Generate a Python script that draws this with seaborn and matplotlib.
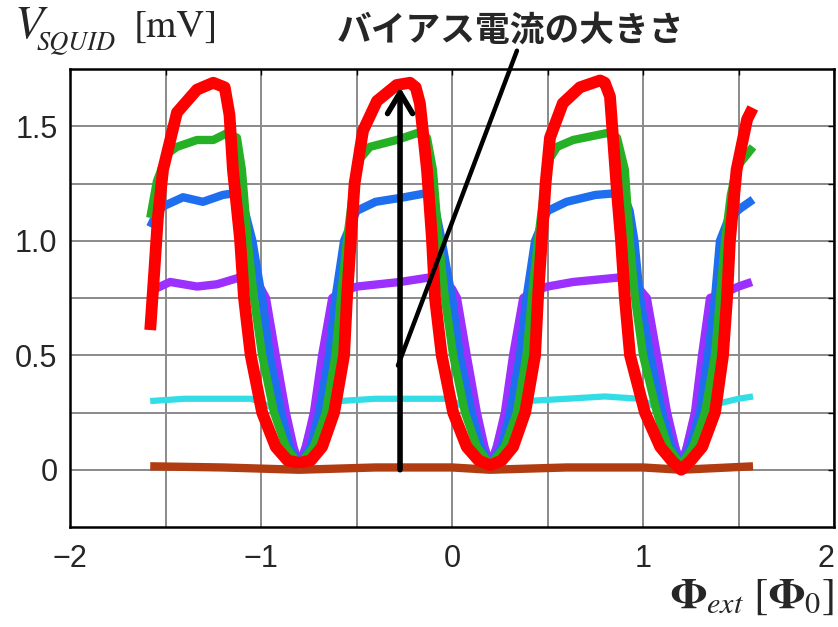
import matplotlib
matplotlib.use("Agg")
import matplotlib.pyplot as plt
import seaborn as sns
import numpy as np

# ---------------- data ----------------
RED_X = [-1.58, -1.56, -1.54, -1.513, -1.44, -1.335, -1.25, -1.19, -1.165, -1.147, -1.11, -1.089,
         -1.054, -0.994, -0.923, -0.86, -0.80, -0.74, -0.68, -0.617, -0.565, -0.55, -0.53, -0.51,
         -0.466, -0.393, -0.29, -0.22, -0.19, -0.168, -0.131, -0.105, -0.089, -0.054, 0.006, 0.077,
         0.14, 0.20, 0.26, 0.32, 0.383, 0.435, 0.45, 0.47, 0.49, 0.513, 0.58, 0.67, 0.775, 0.80,
         0.827, 0.843, 0.865, 0.885, 0.905, 0.932, 1.01, 1.09, 1.15, 1.20, 1.25, 1.31, 1.377, 1.419,
         1.44, 1.455, 1.49, 1.545, 1.575]
RED_Y = [0.61, 0.85, 1.10, 1.31, 1.56, 1.66, 1.69, 1.67, 1.55, 1.31, 1.01, 0.75,
         0.50, 0.25, 0.10, 0.04, 0.03, 0.04, 0.10, 0.25, 0.50, 0.75, 1.00, 1.25,
         1.48, 1.61, 1.68, 1.69, 1.67, 1.60, 1.31, 1.01, 0.75, 0.50, 0.25, 0.10,
         0.04, 0.02, 0.04, 0.10, 0.25, 0.50, 0.75, 1.00, 1.25, 1.45, 1.60, 1.67, 1.70, 1.69,
         1.63, 1.45, 1.20, 1.00, 0.75, 0.50, 0.25, 0.10, 0.04, 0.00, 0.04, 0.10, 0.25, 0.50,
         0.75, 1.00, 1.31, 1.53, 1.58]

GREEN_X = [-1.58, -1.545, -1.49, -1.44, -1.335, -1.25, -1.178, -1.126, -1.10, -1.07, -1.037, -0.994,
           -0.932, -0.87, -0.80, -0.723, -0.66, -0.61, -0.582, -0.55, -0.52, -0.48, -0.43, -0.29,
           -0.183, -0.131, -0.10, -0.07, -0.037, 0.006, 0.068, 0.13, 0.20, 0.277, 0.34, 0.39,
           0.418, 0.45, 0.48, 0.513, 0.55, 0.634, 0.81, 0.864, 0.905, 0.93, 0.958, 1.0,
           1.073, 1.13, 1.20, 1.263, 1.325, 1.377, 1.403, 1.43, 1.46, 1.49, 1.576]
GREEN_Y = [1.10, 1.26, 1.38, 1.41, 1.44, 1.44, 1.47, 1.45, 1.31, 1.00, 0.75, 0.50,
           0.25, 0.10, 0.02, 0.10, 0.25, 0.50, 0.75, 1.00, 1.20, 1.36, 1.41, 1.44,
           1.47, 1.45, 1.31, 1.00, 0.75, 0.50, 0.25, 0.10, 0.02, 0.10, 0.25, 0.50,
           0.75, 1.00, 1.20, 1.36, 1.41, 1.44, 1.47, 1.45, 1.31, 1.00, 0.75, 0.50,
           0.25, 0.10, 0.02, 0.10, 0.25, 0.50, 0.75, 1.00, 1.20, 1.32, 1.41]

BLUE_X = [-1.58, -1.545, -1.513, -1.408, -1.304, -1.2, -1.12, -1.085, -1.045, -0.995, -0.955, -0.895,
          -0.85, -0.80, -0.74, -0.696, -0.644, -0.61, -0.565, -0.50, -0.40, -0.25, -0.12, -0.085,
          -0.054, 0.0, 0.04, 0.103, 0.15, 0.20, 0.26, 0.304, 0.356, 0.39, 0.435, 0.50,
          0.60, 0.75, 0.895, 0.93, 0.955, 0.984, 1.037, 1.10, 1.15, 1.20, 1.246, 1.298,
          1.34, 1.377, 1.403, 1.45, 1.508, 1.576]
BLUE_Y = [1.06, 1.12, 1.15, 1.19, 1.17, 1.20, 1.21, 1.13, 1.00, 0.75, 0.50, 0.25,
          0.10, 0.02, 0.10, 0.25, 0.50, 0.75, 1.00, 1.13, 1.17, 1.19, 1.21, 1.13,
          1.00, 0.75, 0.50, 0.25, 0.10, 0.02, 0.10, 0.25, 0.50, 0.75, 1.00, 1.13,
          1.17, 1.20, 1.21, 1.13, 1.00, 0.75, 0.50, 0.25, 0.10, 0.02, 0.10, 0.25,
          0.50, 0.75, 1.00, 1.10, 1.14, 1.18]

PURPLE_X = [-1.58, -1.476, -1.335, -1.23, -1.11, -1.05, -1.0, -0.974, -0.923, -0.87, -0.83, -0.80,
            -0.765, -0.723, -0.68, -0.627, -0.575, -0.497, -0.272, -0.115, -0.05, 0.0, 0.026, 0.077,
            0.13, 0.17, 0.20, 0.235, 0.277, 0.32, 0.373, 0.425, 0.50, 0.634, 0.88, 0.93,
            0.98, 1.02, 1.073, 1.126, 1.168, 1.20, 1.23, 1.272, 1.309, 1.351, 1.42, 1.50, 1.57]
PURPLE_Y = [0.78, 0.82, 0.80, 0.81, 0.84, 0.83, 0.79, 0.75, 0.50, 0.25, 0.10, 0.02,
            0.10, 0.25, 0.50, 0.75, 0.78, 0.80, 0.82, 0.84, 0.83, 0.79, 0.75, 0.50,
            0.25, 0.10, 0.02, 0.10, 0.25, 0.50, 0.75, 0.78, 0.80, 0.82, 0.84, 0.83,
            0.79, 0.75, 0.50, 0.25, 0.10, 0.02, 0.10, 0.25, 0.50, 0.75, 0.77, 0.80, 0.82]

CYAN_X = [-1.58, -1.4, -1.2, -1.05, -0.88, -0.80, -0.72, -0.59, -0.4, -0.2, -0.02, 0.12,
          0.2, 0.28, 0.39, 0.6, 0.8, 0.98, 1.125, 1.2, 1.27, 1.40, 1.5, 1.576]
CYAN_Y = [0.30, 0.31, 0.31, 0.31, 0.25, 0.02, 0.25, 0.30, 0.31, 0.31, 0.31, 0.25,
          0.02, 0.25, 0.30, 0.31, 0.32, 0.31, 0.25, 0.02, 0.25, 0.29, 0.31, 0.32]

BROWN_X = [-1.58, -1.2, -0.8, -0.4, 0.0, 0.2, 0.6, 1.0, 1.2, 1.576]
BROWN_Y = [0.015, 0.01, 0.0, 0.01, 0.01, 0.0, 0.01, 0.01, 0.0, 0.015]

X_TICKS = [-2, -1, 0, 1, 2]
X_TICK_LABELS = ["\u22122", "\u22121", "0", "1", "2"]
X_MINOR = [-1.5, -0.5, 0.5, 1.5]
Y_TICKS = [0, 0.5, 1.0, 1.5]
Y_TICK_LABELS = ["0", "0.5", "1.0", "1.5"]
Y_MINOR = [0.25, 0.75, 1.25]

TITLE = "バイアス電流の大きさ"

# annotation geometry (data coords)
ARROW_X = -0.272
ARROW_BOTTOM = 0.0
ARROW_TOP = 1.67
POINTER_START = (0.34, 1.83)
POINTER_END = (-0.283, 0.455)

# ---------------- style ----------------
sns.set_theme(style="white")
plt.rcParams["font.family"] = ["Liberation Sans", "DejaVu Sans"]
plt.rcParams["mathtext.fontset"] = "stix"
plt.rcParams["axes.unicode_minus"] = True

fig = plt.figure(figsize=(8.38, 6.27), dpi=100)
ax = fig.add_axes([70 / 838, 1 - 527 / 627, (834 - 70) / 838, (527 - 69) / 627])

series = [
    (BROWN_X, BROWN_Y, "#b23c12", 6.0),
    (CYAN_X, CYAN_Y, "#33dde6", 4.5),
    (PURPLE_X, PURPLE_Y, "#9b30ff", 6.0),
    (BLUE_X, BLUE_Y, "#1e6ff0", 6.0),
    (GREEN_X, GREEN_Y, "#26b026", 6.0),
    (RED_X, RED_Y, "#ff0000", 8.5),
]
for i, (xs, ys, c, lw) in enumerate(series):
    sns.lineplot(x=xs, y=ys, sort=False, color=c, linewidth=lw, ax=ax,
                 solid_capstyle="butt", solid_joinstyle="round", zorder=3 + i)

ax.set_xlim(-2, 2)
ax.set_ylim(-0.25, 1.75)
ax.set_xticks(X_TICKS)
xlabels = ax.set_xticklabels(X_TICK_LABELS)
xlabels[-1].set_horizontalalignment("right")
ax.set_xticks(X_MINOR, minor=True)
ax.set_yticks(Y_TICKS)
ax.set_yticklabels(Y_TICK_LABELS)
ax.set_yticks(Y_MINOR, minor=True)
ax.grid(which="both", color="#8a8a8a", linewidth=1.4, zorder=0)
ax.set_axisbelow(True)
ax.tick_params(which="both", direction="in", length=4, width=1.0, color="black",
               top=True, right=True, labelsize=22)
ax.tick_params(axis="x", pad=12)
ax.tick_params(axis="y", pad=9)
for s in ax.spines.values():
    s.set_color("black")
    s.set_linewidth(1.8)
ax.set_xlabel("")
ax.set_ylabel("")

# arrow and pointer line
ax.annotate("", xy=(ARROW_X, ARROW_TOP), xytext=(ARROW_X, ARROW_BOTTOM),
            arrowprops=dict(arrowstyle="->,head_length=0.75,head_width=0.45", lw=4.0,
                            color="black", mutation_scale=20, shrinkA=0, shrinkB=0),
            zorder=20)
ax.annotate("", xy=POINTER_END, xytext=POINTER_START, annotation_clip=False,
            arrowprops=dict(arrowstyle="-", lw=3.2, color="black", shrinkA=0, shrinkB=0),
            zorder=20)

# texts
serif = ["STIXGeneral", "Liberation Serif", "DejaVu Serif"]
fig.text(14 / 838, 1 - 38 / 627, "V", fontsize=34, style="italic", va="baseline", ha="left",
         family=serif)
fig.text(37 / 838, 1 - 49 / 627, "SQUID", fontsize=19, style="italic", va="baseline", ha="left",
         family=serif)
fig.text(134 / 838, 1 - 37 / 627, "[mV]", fontsize=28, va="baseline", ha="left", family=serif)
fig.text(510 / 838, 1 - 30 / 627, TITLE, fontsize=25, fontweight="bold", ha="center", va="center",
         family=["Noto Sans CJK JP", "DejaVu Sans"])
fig.text(834 / 838, 1 - 608 / 627, r"$\mathbf{\Phi}_{ext}\ [\mathbf{\Phi}_0]$", fontsize=31,
         ha="right", va="baseline")

fig.savefig("out.png", dpi=100)
